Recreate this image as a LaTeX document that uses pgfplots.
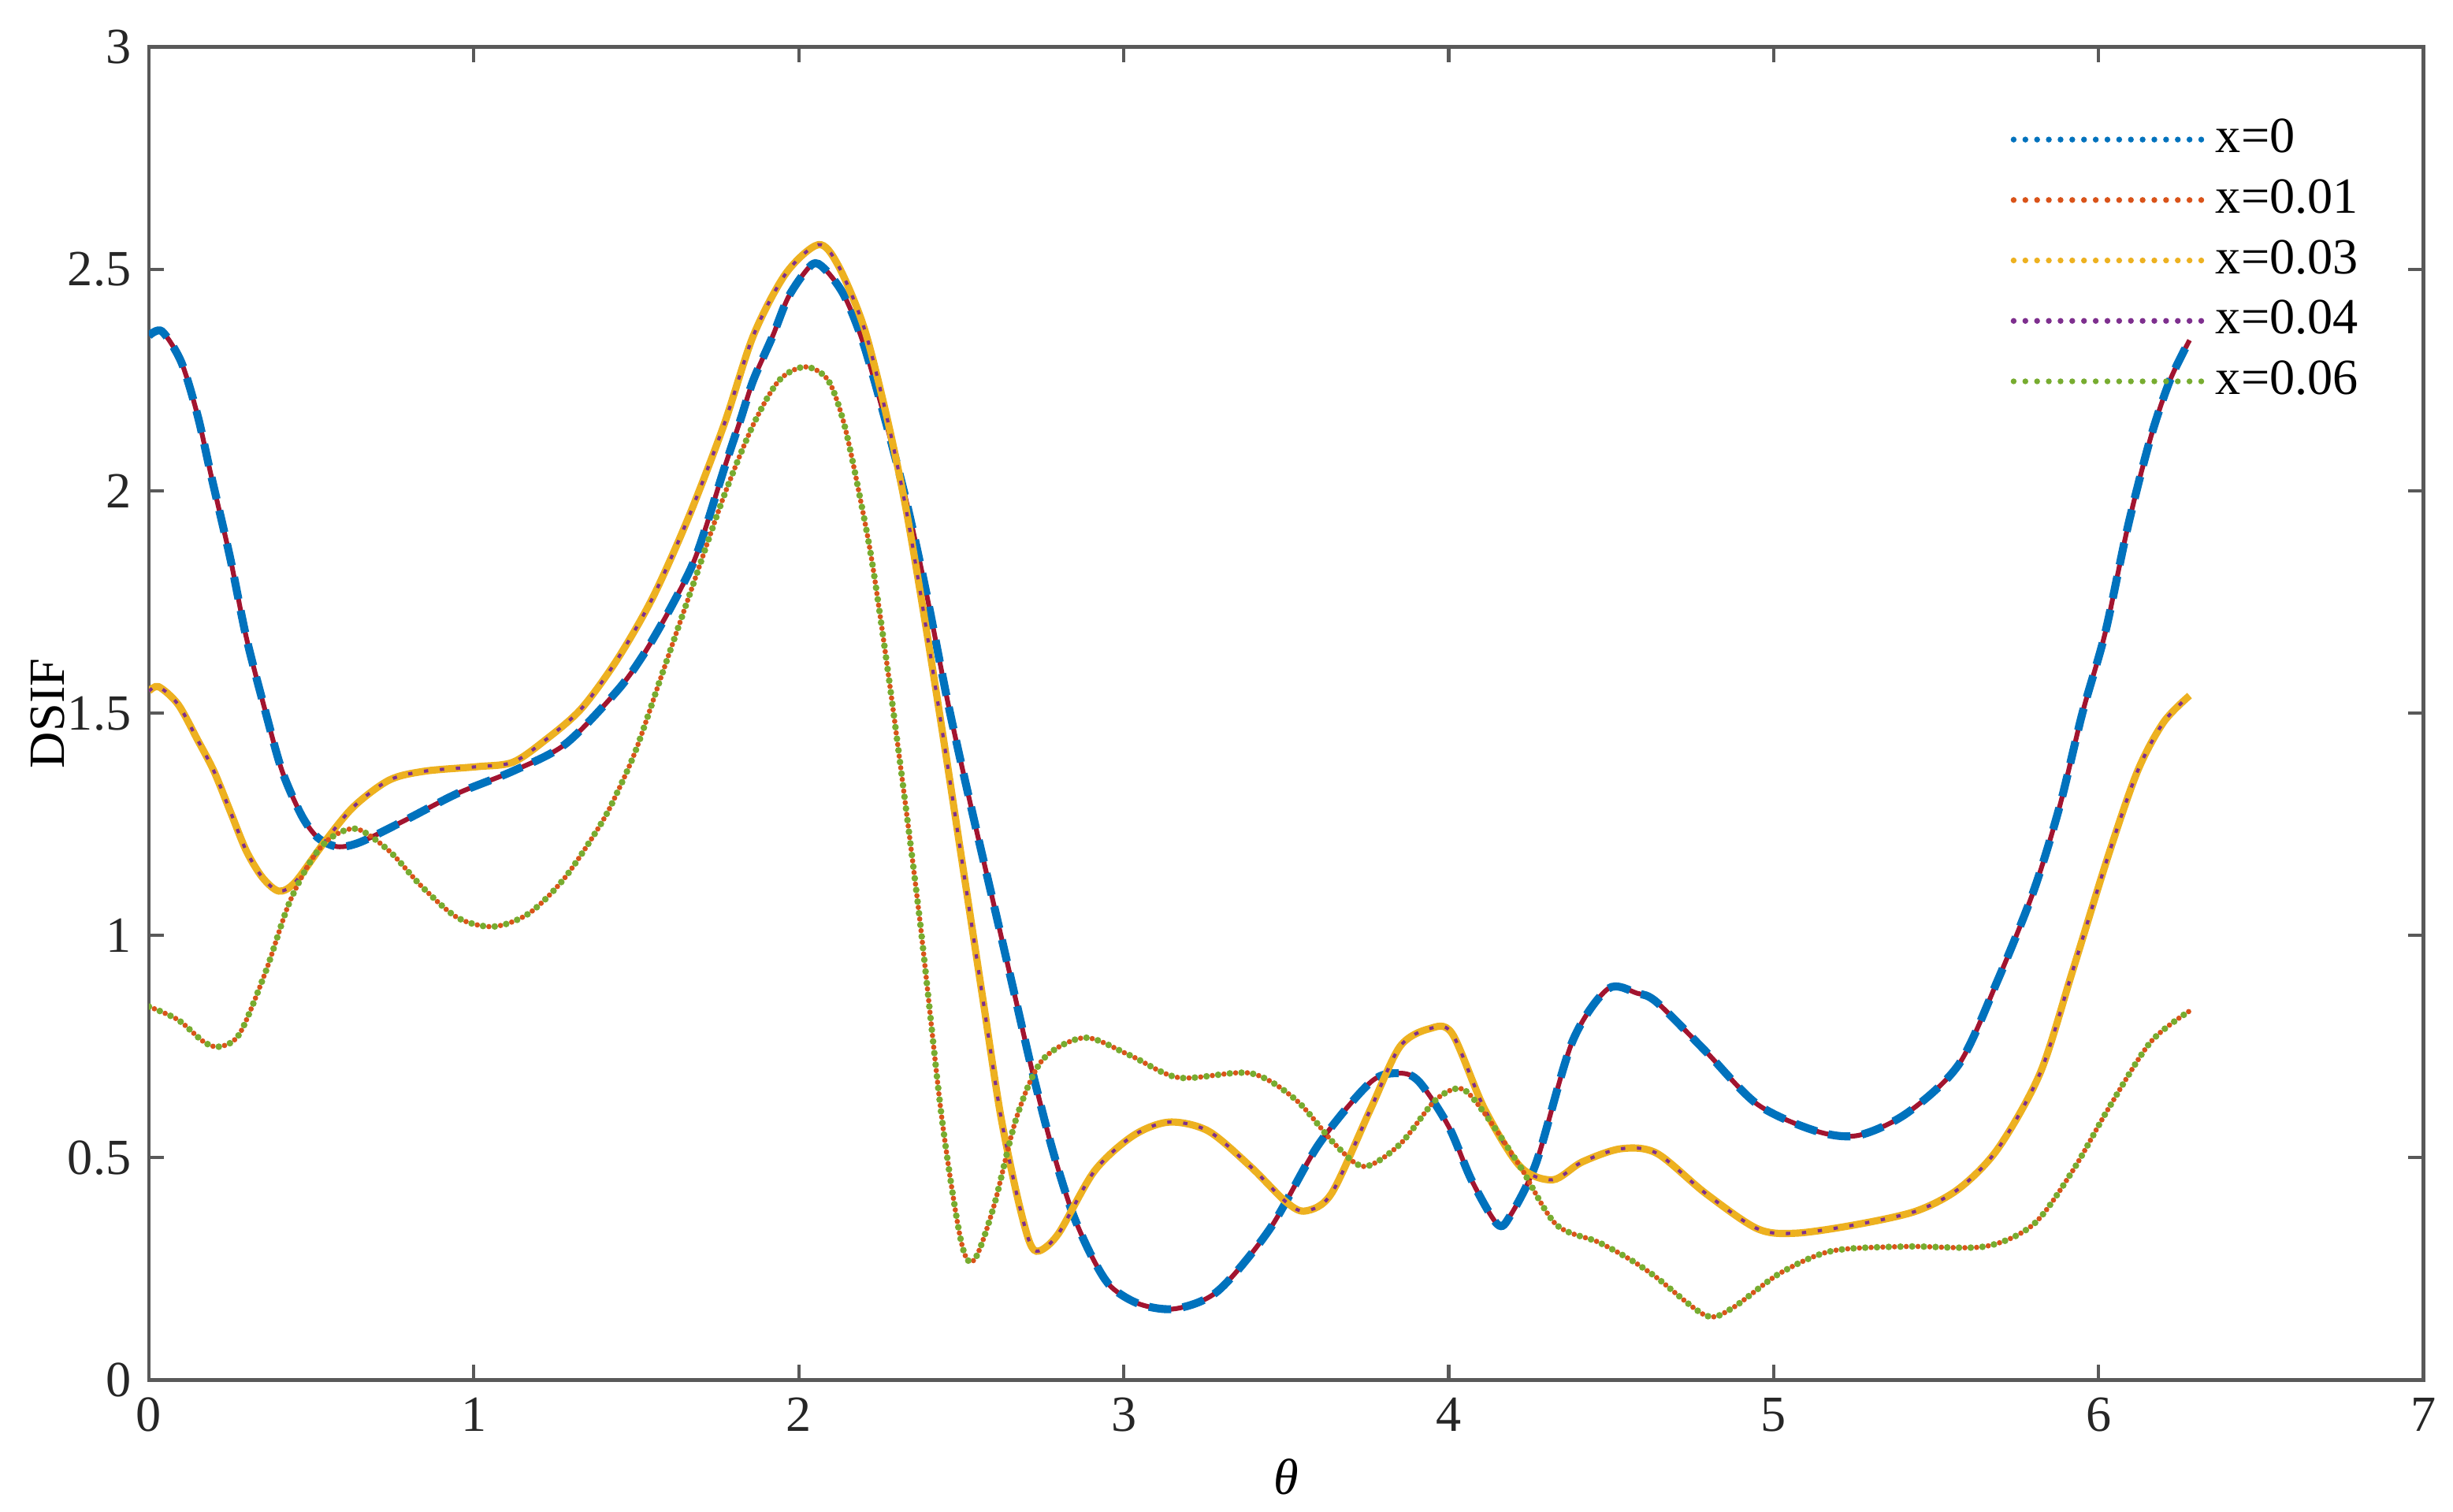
\documentclass[border=0pt]{standalone}
\usepackage{fontspec}
\setmainfont{Liberation Serif}
\usepackage{pgfplots}
\pgfplotsset{compat=1.18}

\definecolor{mblue}{RGB}{0,114,189}
\definecolor{mred}{RGB}{217,83,25}
\definecolor{myellow}{RGB}{237,177,32}
\definecolor{mpurple}{RGB}{126,47,142}
\definecolor{mgreen}{RGB}{119,172,48}
\definecolor{mdarkred}{RGB}{162,20,47}

% three groups of curves
\pgfplotstableread{
t d
0 2.35
0.04 2.36
0.10 2.29
0.15 2.17
0.19 2.04
0.25 1.85
0.30 1.67
0.36 1.50
0.41 1.37
0.47 1.27
0.52 1.22
0.58 1.20
0.65 1.21
0.79 1.26
0.95 1.32
1.12 1.37
1.28 1.43
1.44 1.55
1.52 1.63
1.60 1.73
1.67 1.83
1.71 1.91
1.77 2.05
1.82 2.16
1.86 2.25
1.92 2.35
1.97 2.44
2.04 2.51
2.08 2.50
2.14 2.44
2.20 2.33
2.27 2.15
2.33 1.98
2.39 1.78
2.46 1.52
2.53 1.29
2.60 1.07
2.66 0.88
2.72 0.69
2.78 0.52
2.84 0.38
2.90 0.28
2.96 0.21
3.05 0.17
3.16 0.16
3.29 0.20
3.45 0.34
3.60 0.53
3.76 0.67
3.85 0.69
3.91 0.67
4.00 0.57
4.07 0.45
4.15 0.35
4.19 0.37
4.27 0.49
4.38 0.76
4.49 0.88
4.58 0.87
4.64 0.85
4.79 0.74
4.95 0.62
5.13 0.56
5.26 0.55
5.41 0.60
5.57 0.71
5.69 0.90
5.80 1.10
5.88 1.29
5.95 1.50
6.02 1.68
6.09 1.92
6.16 2.12
6.22 2.25
6.28 2.34
}\groupA

\pgfplotstableread{
t d
0 1.55
0.03 1.56
0.09 1.52
0.15 1.44
0.20 1.37
0.25 1.28
0.30 1.19
0.35 1.13
0.40 1.10
0.45 1.12
0.54 1.21
0.63 1.29
0.74 1.35
0.85 1.37
1.01 1.38
1.12 1.39
1.22 1.44
1.33 1.51
1.44 1.62
1.55 1.76
1.66 1.94
1.77 2.15
1.86 2.35
1.96 2.49
2.06 2.555
2.12 2.51
2.20 2.37
2.27 2.17
2.33 1.96
2.39 1.70
2.45 1.42
2.51 1.13
2.57 0.84
2.62 0.60
2.67 0.42
2.71 0.31
2.74 0.29
2.80 0.33
2.91 0.47
3.03 0.55
3.14 0.58
3.26 0.56
3.39 0.48
3.50 0.40
3.56 0.38
3.64 0.42
3.76 0.61
3.85 0.75
3.94 0.79
4.01 0.78
4.11 0.61
4.22 0.48
4.32 0.45
4.41 0.49
4.53 0.52
4.64 0.51
4.79 0.42
4.95 0.34
5.07 0.33
5.26 0.35
5.44 0.38
5.57 0.43
5.69 0.52
5.82 0.69
5.92 0.92
6.03 1.18
6.12 1.37
6.20 1.48
6.28 1.54
}\groupB

\pgfplotstableread{
t d
0 0.84
0.09 0.81
0.17 0.76
0.22 0.75
0.28 0.78
0.36 0.92
0.43 1.07
0.50 1.17
0.56 1.22
0.64 1.24
0.74 1.19
0.84 1.11
0.95 1.04
1.06 1.02
1.17 1.05
1.28 1.13
1.39 1.25
1.44 1.32
1.50 1.42
1.58 1.59
1.67 1.78
1.77 1.99
1.86 2.15
1.94 2.25
2.02 2.28
2.09 2.25
2.14 2.15
2.19 1.98
2.23 1.82
2.29 1.51
2.37 1.05
2.44 0.59
2.50 0.31
2.54 0.27
2.60 0.39
2.67 0.59
2.75 0.72
2.88 0.77
3.02 0.73
3.17 0.68
3.39 0.69
3.53 0.63
3.65 0.53
3.74 0.48
3.85 0.53
3.96 0.63
4.04 0.655
4.11 0.60
4.22 0.48
4.33 0.35
4.46 0.31
4.56 0.27
4.64 0.23
4.79 0.145
4.87 0.16
5.02 0.24
5.18 0.29
5.41 0.30
5.65 0.30
5.80 0.35
5.92 0.47
6.03 0.61
6.16 0.76
6.28 0.83
}\groupC

\begin{document}
\fontsize{9.5}{11.5}\selectfont
\begin{tikzpicture}
\begin{axis}[
    scale only axis,
    width=15cm, height=8.79cm,
    xmin=0, xmax=7, ymin=0, ymax=3,
    xtick={0,1,...,7},
    ytick={0,0.5,1,1.5,2,2.5,3},
    /pgf/number format/assume math mode=true,
    tick label style={font=\fontsize{9.5}{11.5}\selectfont, black!85},
    label style={font=\fontsize{9.5}{11.5}\selectfont},
    xlabel={\textit{θ}},
    ylabel={DSIF},
    xlabel style={at={(rel axis cs:0.5,0)}, anchor=center, yshift=-0.64cm},
    ylabel style={at={(rel axis cs:0,0.5)}, anchor=center, yshift=0.67cm, inner sep=0.2cm},
    axis line style={black!65, line width=0.7pt},
    major tick style={black!65, line width=0.6pt},
    major tick length=0.1cm,
    tick align=inside,
    legend style={
        at={(0.983,0.962)}, anchor=north east,
        draw=none, fill=none,
        font=\fontsize{9.5}{11.5}\selectfont,
        nodes={inner sep=1.8pt},
        row sep=0pt,
    },
    legend cell align=left,
    legend image code/.code={\draw[#1] (0cm,0cm) -- (1.25cm,0cm);},
    every axis plot/.append style={smooth, tension=0.5},
]

% group A: dashed blue over red
\addplot[mdarkred, line width=0.9pt, forget plot] table[x=t, y=d] {\groupA};
\addplot[mblue, line width=1.5pt, dash pattern=on 4.2pt off 2.2pt, forget plot] table[x=t, y=d] {\groupA};

% group B: yellow with purple dots
\addplot[myellow, line width=1.35pt, forget plot] table[x=t, y=d] {\groupB};
\addplot[mpurple, line width=0.6pt, dash pattern=on 0.8pt off 2.2pt, forget plot] table[x=t, y=d] {\groupB};

% group C: green and red dots
\addplot[mred, line width=1.0pt, line cap=round, dash pattern=on 0pt off 2.2pt, dash phase=1.1pt, forget plot] table[x=t, y=d] {\groupC};
\addplot[mgreen, line width=1.25pt, line cap=round, dash pattern=on 0pt off 2.2pt, forget plot] table[x=t, y=d] {\groupC};

\addlegendimage{mblue, line width=1.1pt, line cap=round, dash pattern=on 0pt off 2.2pt}
\addlegendentry{x=0}
\addlegendimage{mred, line width=1.1pt, line cap=round, dash pattern=on 0pt off 2.2pt}
\addlegendentry{x=0.01}
\addlegendimage{myellow, line width=1.1pt, line cap=round, dash pattern=on 0pt off 2.2pt}
\addlegendentry{x=0.03}
\addlegendimage{mpurple, line width=1.1pt, line cap=round, dash pattern=on 0pt off 2.2pt}
\addlegendentry{x=0.04}
\addlegendimage{mgreen, line width=1.1pt, line cap=round, dash pattern=on 0pt off 2.2pt}
\addlegendentry{x=0.06}

\coordinate (topleft) at (rel axis cs:0,1);
\end{axis}
\path (topleft) -- ++(0,0.31cm);
\end{tikzpicture}
\end{document}
